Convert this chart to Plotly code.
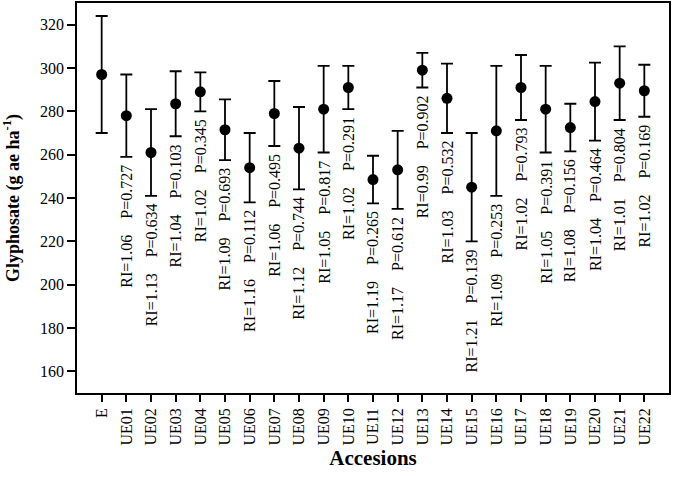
import plotly.graph_objects as go

categories = ["E"] + [f"UE{i:02d}" for i in range(1, 23)]
means = [297, 278, 261, 283.5, 289, 271.5, 254, 279, 263, 281, 291, 248.5, 253,
         299, 286, 245, 271, 291, 281, 272.5, 284.5, 293, 289.5]
errors = [27, 19, 20, 15, 9, 14, 16, 15, 19, 20, 10, 11, 18,
          8, 16, 25, 30, 15, 20, 11, 18, 17, 12]
ri_values = [None, "1.06", "1.13", "1.04", "1.02", "1.09", "1.16", "1.06", "1.12", "1.05", "1.02",
             "1.19", "1.17", "0.99", "1.03", "1.21", "1.09", "1.02", "1.05", "1.08", "1.04", "1.01", "1.02"]
p_values = [None, "0.727", "0.634", "0.103", "0.345", "0.693", "0.112", "0.495", "0.744", "0.817",
            "0.291", "0.265", "0.612", "0.902", "0.532", "0.139", "0.253", "0.793", "0.391",
            "0.156", "0.464", "0.804", "0.169"]

FONT = "Liberation Serif, Times New Roman, serif"

fig = go.Figure()
fig.add_trace(go.Scatter(
    x=categories, y=means, mode="markers",
    marker=dict(color="black", size=11, symbol="circle"),
    error_y=dict(type="data", array=errors, visible=True, color="black",
                 thickness=1.8, width=6),
    showlegend=False, hoverinfo="skip",
))

sp = "\u00a0" * 4
for cat, m, e, ri, p in zip(categories, means, errors, ri_values, p_values):
    if ri is None:
        continue
    fig.add_annotation(
        x=cat, y=m - e, xref="x", yref="y",
        text=f"RI={ri}{sp}P={p}", textangle=-90, showarrow=False,
        xanchor="center", yanchor="top", yshift=-6,
        font=dict(family=FONT, size=16, color="black"),
    )

fig.update_layout(
    width=673, height=477,
    margin=dict(l=77, r=4, t=3, b=84),
    paper_bgcolor="white", plot_bgcolor="white",
    font=dict(family=FONT, color="black"),
    xaxis=dict(
        type="category", range=[-1, 23], automargin=False,
        showline=True, linecolor="black", linewidth=1.5, mirror=True,
        ticks="outside", ticklen=7, tickwidth=1.5, tickcolor="black",
        tickangle=-90, tickfont=dict(family=FONT, size=16, color="black"),
        showgrid=False, zeroline=False,
        title=dict(text="<b>Accesions</b>", font=dict(family=FONT, size=21, color="black"),
                   standoff=6),
    ),
    yaxis=dict(
        range=[150, 330], automargin=False,
        tickvals=[160, 180, 200, 220, 240, 260, 280, 300, 320],
        showline=True, linecolor="black", linewidth=1.5, mirror=True,
        ticks="outside", ticklen=8, tickwidth=1.5, tickcolor="black",
        tickfont=dict(family=FONT, size=16, color="black"),
        showgrid=False, zeroline=False,
        title=dict(text="<b>Glyphosate (g ae ha<sup>-1</sup>)</b>",
                   font=dict(family=FONT, size=18, color="black"), standoff=17),
    ),
)

fig.write_html("out.html", config={"displayModeBar": False},
               post_script="document.body.style.margin='0';document.body.style.overflow='hidden';")
